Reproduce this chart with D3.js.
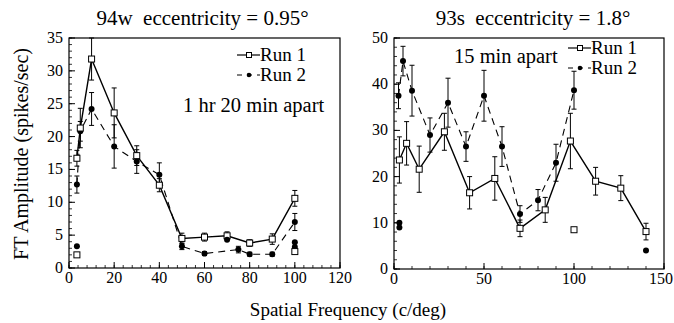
<!DOCTYPE html>
<html>
<head>
<meta charset="utf-8">
<script src="https://cdn.jsdelivr.net/npm/d3@7"></script>
<style>
  body { margin: 0; background: #fff; }
  text { font-family: "Liberation Serif", "Times New Roman", serif; fill: #000; }
</style>
</head>
<body>
<div id="chart"></div>
<script>
// ---- left panel data (94w) ----
var leftRun1X = [3.5, 5, 10, 20, 30, 40, 50, 60, 70, 80, 90, 100];
var leftRun1Y = [16.7, 21.3, 31.8, 23.6, 17.1, 12.6, 4.5, 4.7, 4.9, 3.8, 4.4, 10.6];
var leftRun1E = [1.2, 3, 3.2, 3.8, 1.5, 1, 0.8, 0.6, 0.6, 0.5, 0.8, 1.2];
var leftRun2X = [3.5, 5, 10, 20, 30, 40, 50, 60, 75, 80, 90, 100];
var leftRun2Y = [12.7, 20.8, 24.2, 18.5, 16.2, 14.2, 3.3, 2.2, 2.8, 2.1, 2.1, 7.0];
var leftRun2E = [1.3, 1.5, 2.5, 3.3, 1.8, 1.8, 0.5, 0.3, 0.5, 0.3, 0.3, 1.3];
var leftLoneSqX = [3.5, 100], leftLoneSqY = [2.0, 2.5];
var leftLoneDotX = [3.5, 70, 100, 100], leftLoneDotY = [3.3, 4.3, 3.9, 3.2];
var leftXTicks = [0, 20, 40, 60, 80, 100, 120];
var leftYTicks = [0, 5, 10, 15, 20, 25, 30, 35];

// ---- right panel data (93s) ----
var rightRun1X = [3, 7, 14, 28, 42, 56, 70, 84, 98, 112, 126, 140];
var rightRun1Y = [23.6, 27.2, 21.6, 29.7, 16.5, 19.6, 8.8, 12.8, 27.7, 19, 17.5, 8.1];
var rightRun1E = [5, 4.7, 5, 4, 3.5, 4.7, 1.8, 2.7, 6, 3, 2.7, 1.8];
var rightRun2X = [2.5, 5, 10, 20, 30, 40, 50, 60, 70, 80, 90, 100];
var rightRun2Y = [37.5, 45, 38.6, 29, 36, 26.5, 37.5, 26.5, 11.9, 14.9, 23, 38.7];
var rightRun2E = [2.8, 3.2, 5.5, 3.7, 5.3, 3.2, 5.5, 4.3, 1.8, 2.3, 4, 4.1];
var rightLoneSqX = [100], rightLoneSqY = [8.5];
var rightLoneDotX = [3, 3, 140], rightLoneDotY = [10, 9, 4];
var rightXTicks = [0, 50, 100, 150];
var rightYTicks = [0, 10, 20, 30, 40, 50];

var width = 674, height = 323;

var svg = d3.select("#chart").append("svg")
    .attr("width", width)
    .attr("height", height);

function zip(xs, ys, es) {
    return xs.map(function (x, i) { return { x: x, y: ys[i], e: es ? es[i] : 0 }; });
}

function drawPanel(opt) {
    var x = d3.scaleLinear().domain(opt.xDomain).range([opt.left, opt.right]);
    var y = d3.scaleLinear().domain(opt.yDomain).range([opt.bottom, opt.top]);
    var g = svg.append("g");

    // frame
    g.append("rect")
        .attr("x", opt.left).attr("y", opt.top)
        .attr("width", opt.right - opt.left).attr("height", opt.bottom - opt.top)
        .attr("fill", "none").attr("stroke", "#000").attr("stroke-width", 1.2);

    // minor ticks (inside)
    d3.range(opt.xDomain[0], opt.xDomain[1] + 0.001, opt.xMinor).forEach(function (v) {
        g.append("line").attr("x1", x(v)).attr("x2", x(v))
            .attr("y1", opt.bottom).attr("y2", opt.bottom - 3)
            .attr("stroke", "#000").attr("stroke-width", 0.8);
    });
    d3.range(opt.yDomain[0], opt.yDomain[1] + 0.001, opt.yMinor).forEach(function (v) {
        g.append("line").attr("y1", y(v)).attr("y2", y(v))
            .attr("x1", opt.left).attr("x2", opt.left + 3)
            .attr("stroke", "#000").attr("stroke-width", 0.8);
    });

    // major ticks and labels
    opt.xTicks.forEach(function (v, i) {
        g.append("line").attr("x1", x(v)).attr("x2", x(v))
            .attr("y1", opt.bottom).attr("y2", opt.bottom - 6)
            .attr("stroke", "#000").attr("stroke-width", 1);
        var last = opt.clipLast && i === opt.xTicks.length - 1;
        g.append("text").attr("x", last ? width - 1 : x(v)).attr("y", opt.bottom + 15)
            .attr("text-anchor", last ? "end" : "middle").style("font-size", "16px").text(v);
    });
    opt.yTicks.forEach(function (v) {
        g.append("line").attr("y1", y(v)).attr("y2", y(v))
            .attr("x1", opt.left).attr("x2", opt.left + 6)
            .attr("stroke", "#000").attr("stroke-width", 1);
        g.append("text").attr("x", opt.left - 6).attr("y", y(v) + 5)
            .attr("text-anchor", "end").style("font-size", "16px").text(v);
    });

    // title
    g.append("text").attr("x", (opt.left + opt.right) / 2 + opt.titleShift).attr("y", 25)
        .attr("text-anchor", "middle").style("font-size", "21px")
        .attr("xml:space", "preserve").text(opt.title);

    var line = d3.line().x(function (d) { return x(d.x); }).y(function (d) { return y(d.y); });

    function errorBars(data) {
        data.forEach(function (d) {
            var y1 = Math.max(y(d.y + d.e), opt.top), y2 = y(d.y - d.e);
            g.append("line").attr("x1", x(d.x)).attr("x2", x(d.x))
                .attr("y1", y1).attr("y2", y2).attr("stroke", "#000").attr("stroke-width", 1);
            [y(d.y + d.e), y2].forEach(function (yy) {
                if (yy < opt.top) return;
                g.append("line").attr("x1", x(d.x) - 2.5).attr("x2", x(d.x) + 2.5)
                    .attr("y1", yy).attr("y2", yy).attr("stroke", "#000").attr("stroke-width", 1);
            });
        });
    }

    function squares(data) {
        g.selectAll(null).data(data).enter().append("rect")
            .attr("x", function (d) { return x(d.x) - 3; })
            .attr("y", function (d) { return y(d.y) - 3; })
            .attr("width", 6).attr("height", 6)
            .attr("fill", "#fff").attr("stroke", "#000").attr("stroke-width", 1);
    }

    function dots(data) {
        g.selectAll(null).data(data).enter().append("circle")
            .attr("cx", function (d) { return x(d.x); })
            .attr("cy", function (d) { return y(d.y); })
            .attr("r", 3).attr("fill", "#000");
    }

    var run1 = zip(opt.r1x, opt.r1y, opt.r1e);
    var run2 = zip(opt.r2x, opt.r2y, opt.r2e);

    errorBars(run2);
    errorBars(run1);
    g.append("path").datum(run2).attr("d", line)
        .attr("fill", "none").attr("stroke", "#000").attr("stroke-width", 1.1)
        .attr("stroke-dasharray", "7,5");
    g.append("path").datum(run1).attr("d", line)
        .attr("fill", "none").attr("stroke", "#000").attr("stroke-width", 1.4);
    dots(run2);
    squares(run1);
    dots(zip(opt.dotX, opt.dotY));
    squares(zip(opt.sqX, opt.sqY));

    // legend
    var lx = opt.legendX, ly = opt.legendY, gap = opt.legendGap;
    g.append("line").attr("x1", lx).attr("x2", lx + 23).attr("y1", ly).attr("y2", ly)
        .attr("stroke", "#000").attr("stroke-width", 1.2);
    g.append("rect").attr("x", lx + 9.5).attr("y", ly - 2.5).attr("width", 5).attr("height", 5)
        .attr("fill", "#fff").attr("stroke", "#000");
    g.append("text").attr("x", lx + 23).attr("y", ly + 6).style("font-size", "19px").text("Run 1");
    g.append("line").attr("x1", lx).attr("x2", lx + 23).attr("y1", ly + gap).attr("y2", ly + gap)
        .attr("stroke", "#000").attr("stroke-width", 1.1).attr("stroke-dasharray", "5,5");
    g.append("circle").attr("cx", lx + 12).attr("cy", ly + gap).attr("r", 2.3).attr("fill", "#000");
    g.append("text").attr("x", lx + 23).attr("y", ly + gap + 6).style("font-size", "19px").text("Run 2");

    g.append("text").attr("x", opt.noteX).attr("y", opt.noteY)
        .style("font-size", "20.5px").text(opt.note);
}

drawPanel({
    left: 69, right: 340, top: 38, bottom: 268,
    xDomain: [0, 120], yDomain: [0, 35], xMinor: 4, yMinor: 1,
    xTicks: leftXTicks, yTicks: leftYTicks,
    title: "94w  eccentricity = 0.95°", titleShift: -2,
    r1x: leftRun1X, r1y: leftRun1Y, r1e: leftRun1E,
    r2x: leftRun2X, r2y: leftRun2Y, r2e: leftRun2E,
    sqX: leftLoneSqX, sqY: leftLoneSqY, dotX: leftLoneDotX, dotY: leftLoneDotY,
    legendX: 237, legendY: 55, legendGap: 20,
    note: "1 hr 20 min apart", noteX: 183, noteY: 112
});

drawPanel({
    left: 394, right: 664, top: 38, bottom: 269,
    xDomain: [0, 150], yDomain: [0, 50], xMinor: 10, yMinor: 2,
    xTicks: rightXTicks, yTicks: rightYTicks, clipLast: true,
    title: "93s  eccentricity = 1.8°", titleShift: 4,
    r1x: rightRun1X, r1y: rightRun1Y, r1e: rightRun1E,
    r2x: rightRun2X, r2y: rightRun2Y, r2e: rightRun2E,
    sqX: rightLoneSqX, sqY: rightLoneSqY, dotX: rightLoneDotX, dotY: rightLoneDotY,
    legendX: 568, legendY: 48, legendGap: 20,
    note: "15 min apart", noteX: 454, noteY: 63
});

// axis titles
svg.append("text")
    .attr("transform", "translate(28,154) rotate(-90)")
    .attr("text-anchor", "middle").style("font-size", "20px")
    .text("FT Amplitude (spikes/sec)");
svg.append("text")
    .attr("x", 348).attr("y", 316)
    .attr("text-anchor", "middle").style("font-size", "19px")
    .text("Spatial Frequency (c/deg)");
</script>
</body>
</html>
